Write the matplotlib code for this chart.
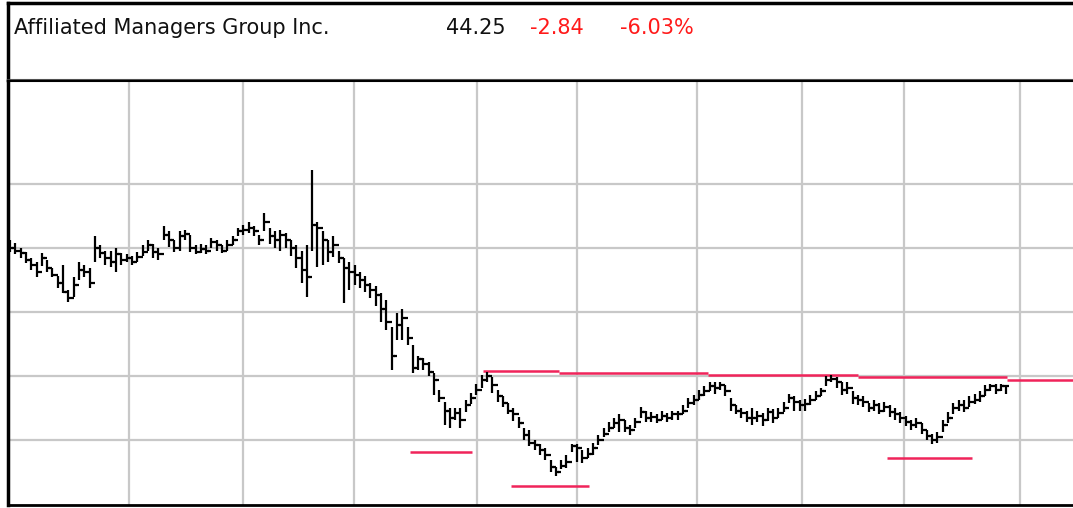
import matplotlib.pyplot as plt

# daily bars (price units)
closes = [
    55.0, 54.8, 54.6, 54.1, 53.7, 53.1, 54.2, 53.4, 52.9, 52.3,
    51.6, 51.1, 52.1, 53.3, 53.1, 52.3, 55.0, 54.6, 54.2, 53.9,
    54.5, 54.1, 54.2, 53.9, 54.3, 54.7, 55.2, 54.7, 54.5, 56.0,
    55.6, 55.0, 55.9, 56.1, 55.0, 54.7, 54.9, 54.8, 55.5, 55.2,
    54.8, 55.2, 55.6, 56.3, 56.4, 56.6, 56.3, 55.6, 57.0, 55.9,
    55.6, 56.0, 55.6, 55.0, 54.2, 53.3, 52.7, 56.8, 56.6, 55.6,
    54.7, 55.2, 54.2, 53.4, 53.1, 52.9, 52.5, 52.1, 51.7, 51.3,
    50.2, 49.2, 46.6, 49.0, 49.5, 48.0, 45.6, 46.3, 45.9, 45.3,
    44.7, 43.3, 42.3, 41.7, 42.1, 41.6, 42.7, 43.3, 43.9, 44.7,
    45.0, 44.3, 43.4, 42.9, 42.3, 42.0, 41.3, 40.4, 39.8, 39.6,
    39.2, 38.8, 37.9, 37.5, 38.0, 38.3, 39.5, 39.4, 38.6, 38.9,
    39.4, 40.0, 40.5, 40.9, 41.3, 41.6, 40.9, 40.8, 41.4, 42.2,
    41.7, 41.8, 41.6, 41.9, 41.7, 42.0, 42.0, 42.3, 42.9, 43.1,
    43.5, 43.8, 44.2, 44.1, 44.3, 43.8, 42.7, 42.3, 42.1, 41.7,
    41.7, 41.9, 41.6, 42.2, 41.7, 42.1, 42.5, 43.3, 43.0, 42.7,
    42.8, 43.1, 43.4, 43.8, 44.7, 44.8, 44.5, 43.9, 44.1, 43.3,
    43.1, 43.0, 42.5, 42.7, 42.3, 42.6, 42.2, 42.0, 41.7, 41.4,
    41.2, 41.3, 40.8, 40.3, 40.0, 40.2, 41.2, 41.7, 42.5, 42.7,
    42.5, 43.0, 43.1, 43.4, 43.9, 44.2, 43.9, 44.2, 44.25,
]
highs = [
    55.6, 55.4, 55.0, 54.7, 54.2, 53.9, 54.6, 54.1, 53.4, 52.8,
    53.7, 51.7, 52.7, 53.9, 53.7, 53.4, 55.9, 55.2, 54.8, 54.8,
    55.0, 54.6, 54.5, 54.4, 54.7, 55.2, 55.6, 55.3, 55.0, 56.7,
    56.3, 55.6, 56.3, 56.4, 56.0, 55.2, 55.3, 55.2, 55.8, 55.6,
    55.2, 55.6, 55.9, 56.6, 56.8, 57.0, 56.7, 56.0, 57.7, 56.6,
    56.3, 56.4, 56.2, 55.6, 55.2, 54.8, 55.2, 61.1, 57.0, 56.3,
    55.6, 55.9, 54.8, 54.2, 53.9, 53.7, 53.1, 52.8, 52.3, 52.0,
    51.5, 50.9, 48.8, 49.9, 50.2, 48.8, 47.4, 46.6, 46.4, 46.1,
    45.2, 43.9, 43.0, 42.5, 42.5, 42.5, 43.1, 43.7, 44.4, 45.1,
    45.3, 44.9, 43.9, 43.4, 42.9, 42.5, 41.8, 40.9, 40.8, 40.0,
    39.7, 39.4, 38.4, 37.9, 38.4, 38.8, 39.7, 39.7, 39.2, 39.4,
    39.8, 40.4, 40.9, 41.4, 41.7, 42.0, 41.6, 41.2, 41.7, 42.6,
    42.3, 42.2, 42.0, 42.3, 42.1, 42.3, 42.3, 42.7, 43.3, 43.5,
    43.9, 44.2, 44.5, 44.5, 44.5, 44.3, 43.3, 42.7, 42.5, 42.3,
    42.5, 42.3, 42.1, 42.5, 42.4, 42.5, 43.0, 43.6, 43.4, 43.1,
    43.2, 43.5, 43.8, 44.1, 45.0, 45.1, 44.9, 44.5, 44.5, 43.8,
    43.5, 43.4, 42.9, 43.1, 42.9, 43.0, 42.7, 42.5, 42.2, 41.9,
    41.6, 41.7, 41.3, 40.8, 40.5, 40.6, 41.6, 42.2, 42.9, 43.1,
    43.1, 43.4, 43.6, 43.8, 44.3, 44.4, 44.4, 44.4, 44.3,
]
lows = [
    54.7, 54.5, 54.2, 53.8, 53.3, 52.7, 53.6, 53.1, 52.7, 51.9,
    51.5, 50.8, 51.2, 52.5, 52.7, 51.9, 53.9, 54.2, 53.7, 53.5,
    53.1, 53.7, 53.9, 53.7, 53.9, 54.4, 54.8, 54.2, 54.1, 55.6,
    55.1, 54.7, 54.8, 55.6, 54.7, 54.5, 54.6, 54.5, 55.0, 54.8,
    54.6, 54.8, 55.2, 55.9, 56.0, 56.2, 55.9, 55.2, 56.3, 55.3,
    55.0, 54.8, 55.0, 54.4, 53.4, 52.3, 51.2, 54.8, 53.5, 53.7,
    53.9, 54.3, 53.8, 50.7, 51.7, 52.1, 51.9, 51.6, 51.1, 50.5,
    49.2, 48.6, 45.5, 47.8, 47.8, 47.4, 45.2, 45.5, 45.5, 45.0,
    43.5, 43.0, 41.2, 40.9, 41.6, 40.9, 42.2, 42.8, 43.5, 44.1,
    44.5, 43.7, 43.0, 42.6, 42.0, 41.5, 40.9, 40.0, 39.5, 39.2,
    38.8, 38.4, 37.5, 37.2, 37.7, 37.8, 39.1, 38.3, 38.2, 38.6,
    38.8, 39.6, 40.2, 40.6, 40.9, 40.6, 40.6, 40.4, 40.9, 41.7,
    41.4, 41.4, 41.3, 41.6, 41.4, 41.6, 41.6, 42.0, 42.5, 42.7,
    43.1, 43.4, 43.8, 43.6, 43.9, 43.4, 42.3, 42.0, 41.7, 41.4,
    41.2, 41.4, 41.1, 41.5, 41.3, 41.7, 42.2, 42.9, 42.3, 42.3,
    42.3, 42.7, 43.1, 43.4, 44.2, 44.5, 44.1, 43.5, 43.6, 42.8,
    42.7, 42.6, 42.2, 42.3, 42.0, 42.2, 41.8, 41.6, 41.3, 41.1,
    40.8, 40.9, 40.5, 40.0, 39.7, 39.8, 40.6, 41.3, 42.0, 42.3,
    42.2, 42.6, 42.8, 43.0, 43.4, 43.8, 43.6, 43.8, 43.6,
]

# support / resistance lines: (start bar, end bar, price)
level_lines = [
    (75.5, 87.2, 39.06),
    (89.2, 103.6, 45.39),
    (103.6, 131.7, 45.23),
    (131.7, 160.0, 45.08),
    (160.0, 188.1, 44.92),
    (188.1, 201.0, 44.69),
    (94.5, 109.2, 36.41),
    (165.5, 181.5, 38.59),
]
month_lines = [22.5, 44.0, 64.9, 88.1, 107.0, 129.6, 149.4, 168.7, 190.6]
price_lines = [40, 45, 50, 55, 60]

name = "Affiliated Managers Group Inc."
last, change, pct = "44.25", "-2.84", "-6.03%"

fig = plt.figure(figsize=(10.73, 5.08), dpi=100)
W, H = 1073, 508

# header box
hdr = fig.add_axes([8 / W, (H - 80) / H, 1 - 8 / W, 77 / H])
hdr.set_xlim(0, 1)
hdr.set_ylim(0, 1)
hdr.set_xticks([])
hdr.set_yticks([])
hdr.spines['right'].set_visible(False)
hdr.spines['top'].set_linewidth(2.5)
hdr.spines['left'].set_linewidth(2.5)
hdr.spines['bottom'].set_linewidth(1.5)
hdr.spines['bottom'].set_color('#555555')

ty = (H - 34) / H
fig.text(14 / W, ty, name, fontsize=15, color='#111111')
fig.text(446 / W, ty, last, fontsize=15, color='#111111')
fig.text(530 / W, ty, change, fontsize=15, color='#ff1a1a')
fig.text(620 / W, ty, pct, fontsize=15, color='#ff1a1a')

ax = fig.add_axes([8 / W, 3 / H, 1 - 8 / W, 424 / H])
ax.set_xlim(-0.38, 200.57)
ax.set_ylim(34.92, 68.05)
ax.set_xticks([])
ax.set_yticks([])
for x in month_lines:
    ax.axvline(x, color='#c8c8c8', lw=1.6, zorder=1)
for y in price_lines:
    ax.axhline(y, color='#c8c8c8', lw=1.6, zorder=1)

idx = list(range(len(closes)))
ax.vlines(idx, lows, highs, color='black', lw=1.6, zorder=3)
# close tick on the right
ax.hlines(closes, idx, [i + 0.55 for i in idx], color='black', lw=1.6, zorder=3)
# open tick on the left (at the previous close)
ax.hlines(closes[:-1], [i - 0.55 for i in idx[1:]], idx[1:],
          color='black', lw=1.6, zorder=3)

for x0, x1, y in level_lines:
    ax.hlines(y, x0, x1, color='#f0245a', lw=1.8, zorder=2)

ax.spines['right'].set_visible(False)
ax.spines['top'].set_linewidth(1.5)
ax.spines['left'].set_linewidth(2.5)
ax.spines['bottom'].set_linewidth(2)

fig.savefig('out.png', dpi=100)
